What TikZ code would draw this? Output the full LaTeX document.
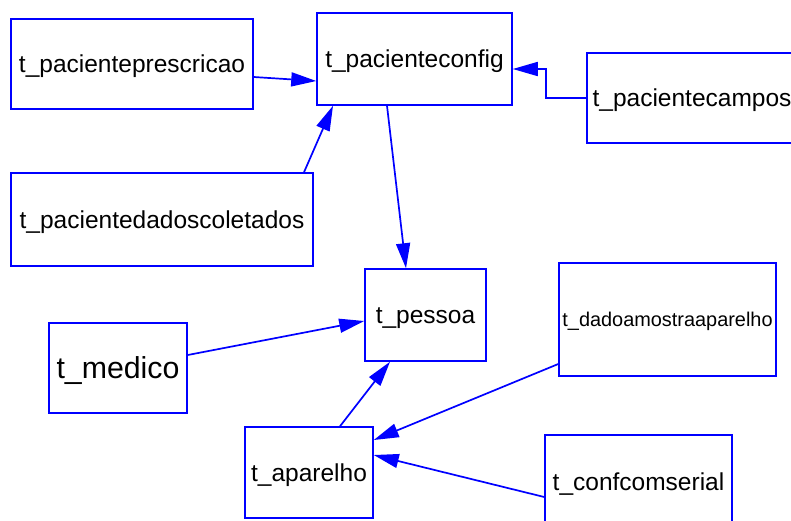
\documentclass[tikz,border=0pt]{standalone}
\usepackage{fontspec}
\setmainfont{Liberation Sans}
\usetikzlibrary{arrows.meta}
\begin{document}
\begin{tikzpicture}[x=1pt,y=-1pt,
  tbl/.style={draw=blue,line width=1.5pt,inner sep=0pt,
    font=\fontsize{24.5}{28}\selectfont,text height=17.5pt,text depth=0pt},
  conn/.style={draw=blue,line width=1.7pt,-{Triangle[length=25pt,width=14pt]}}]
\useasboundingbox (0,0) rectangle (791,520);
\clip (0,0) rectangle (791,520);
\node[tbl,minimum width=242pt,minimum height=90pt] (pres) at (132,64) {t\_pacienteprescricao};
\node[tbl,minimum width=195pt,minimum height=92pt] (cfg) at (414.5,59) {t\_pacienteconfig};
\node[tbl,minimum width=210pt,minimum height=90pt] (camp) at (692,98) {t\_pacientecampos};
\node[tbl,minimum width=302pt,minimum height=93pt] (dados) at (162,219.5) {t\_pacientedadoscoletados};
\node[tbl,minimum width=121pt,minimum height=92pt] (pes) at (425.5,315) {t\_pessoa};
\node[tbl,minimum width=138pt,minimum height=90pt,font=\fontsize{30.3}{34}\selectfont,text height=21.5pt] (med) at (118,368) {t\_medico};
\node[tbl,minimum width=217pt,minimum height=113pt,font=\fontsize{19.9}{23}\selectfont,text height=14.5pt] (dam) at (667.5,319.5) {t\_dadoamostraaparelho};
\node[tbl,minimum width=128pt,minimum height=91pt] (apa) at (309,472.5) {t\_aparelho};
\node[tbl,minimum width=187pt,minimum height=94pt] (conf) at (638.5,482) {t\_confcomserial};
\draw[conn] ([yshift=-13pt]pres.east) -- ([yshift=-22pt]cfg.west);
\draw[conn] ([xshift=142pt]dados.north) -- ([xshift=-81.5pt]cfg.south);
\draw[conn] (camp.west) -- ++(-40,0) |- ([yshift=-10pt]cfg.east);
\draw[conn] ([xshift=-27.5pt]cfg.south) -- ([xshift=-19.5pt]pes.north);
\draw[conn] ([yshift=13pt]med.east) -- ([yshift=-6pt]pes.west);
\draw[conn] ([xshift=31pt]apa.north) -- ([xshift=-35.5pt]pes.south);
\draw[conn] ([yshift=-44.5pt]dam.west) -- ([yshift=32.5pt]apa.east);
\draw[conn] ([yshift=-15pt]conf.west) -- ([yshift=17.5pt]apa.east);
\end{tikzpicture}
\end{document}
